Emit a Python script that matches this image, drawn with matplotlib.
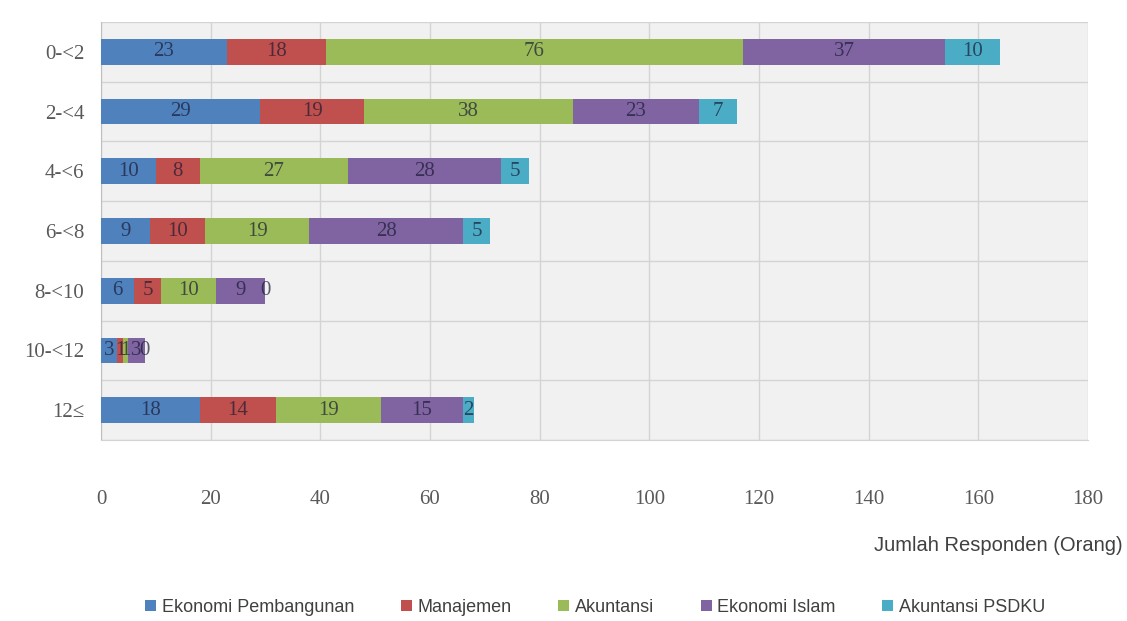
import matplotlib
matplotlib.use('Agg')
import numpy as np
import matplotlib.pyplot as plt

categories = ['0-<2', '2-<4', '4-<6', '6-<8', '8-<10', '10-<12', '12≤']
series_names = ['Ekonomi Pembangunan', 'Manajemen', 'Akuntansi', 'Ekonomi Islam', 'Akuntansi PSDKU']
ekonomi_pembangunan = [23, 29, 10, 9, 6, 3, 18]
manajemen = [18, 19, 8, 10, 5, 1, 14]
akuntansi = [76, 38, 27, 19, 10, 1, 19]
ekonomi_islam = [37, 23, 28, 28, 9, 3, 15]
akuntansi_psdku = [10, 7, 5, 5, 0, 0, 2]
colors = ['#4F81BD', '#C0504D', '#9BBB59', '#8064A2', '#4BACC6']

series = [ekonomi_pembangunan, manajemen, akuntansi, ekonomi_islam, akuntansi_psdku]

fig = plt.figure(figsize=(11.27, 6.21), dpi=100)
ax = fig.add_axes([0.0896, 0.2914, 0.8758, 0.6732])
ax.set_facecolor('#f1f1f1')

y = np.arange(len(categories))
left = np.zeros(len(categories))
for name, vals, col in zip(series_names, series, colors):
    vals = np.array(vals, dtype=float)
    ax.barh(y, vals, left=left, height=0.43, color=col, label=name, zorder=3)
    for yi, l, v in zip(y, left, vals):
        ax.text(l + v / 2, yi, '%d' % v, ha='center', va='center', fontsize=15,
                family='Liberation Serif', color='#1a1a33', alpha=0.7, zorder=4)
    left = left + vals

ax.set_xlim(0, 180)
ax.set_ylim(6.5, -0.5)
ax.set_xticks(np.arange(0, 181, 20))
ax.set_yticks(y)
ax.set_yticklabels(categories)
ax.set_yticks(np.arange(-0.5, 7, 1), minor=True)
ax.grid(axis='x', color='#d4d4d4', linewidth=1, zorder=0)
ax.grid(axis='y', which='minor', color='#d4d4d4', linewidth=1, zorder=0)
ax.tick_params(axis='both', which='both', length=0)
ax.tick_params(axis='x', pad=36, labelsize=15, labelcolor='#595959')
ax.tick_params(axis='y', pad=12, labelsize=15, labelcolor='#595959')
for lab in ax.get_xticklabels() + ax.get_yticklabels():
    lab.set_family('Liberation Serif')
for s in ['top', 'right']:
    ax.spines[s].set_visible(False)
ax.spines['left'].set_color('#bfbfbf')
ax.spines['bottom'].set_color('#d4d4d4')

fig.text(0.996, 0.121, 'Jumlah Responden (Orang)', ha='right', va='center',
         fontsize=14.5, color='#404040', family='Liberation Sans')

handles, labels = ax.get_legend_handles_labels()
fig.legend(handles, labels, loc='center', bbox_to_anchor=(0.528, 0.022), ncol=5,
           frameon=False, handlelength=0.6, handleheight=0.6,
           handletextpad=0.3, columnspacing=2.6, labelcolor='#404040',
           prop={'family': 'Liberation Sans', 'size': 13})

fig.savefig('out.png', dpi=100)
